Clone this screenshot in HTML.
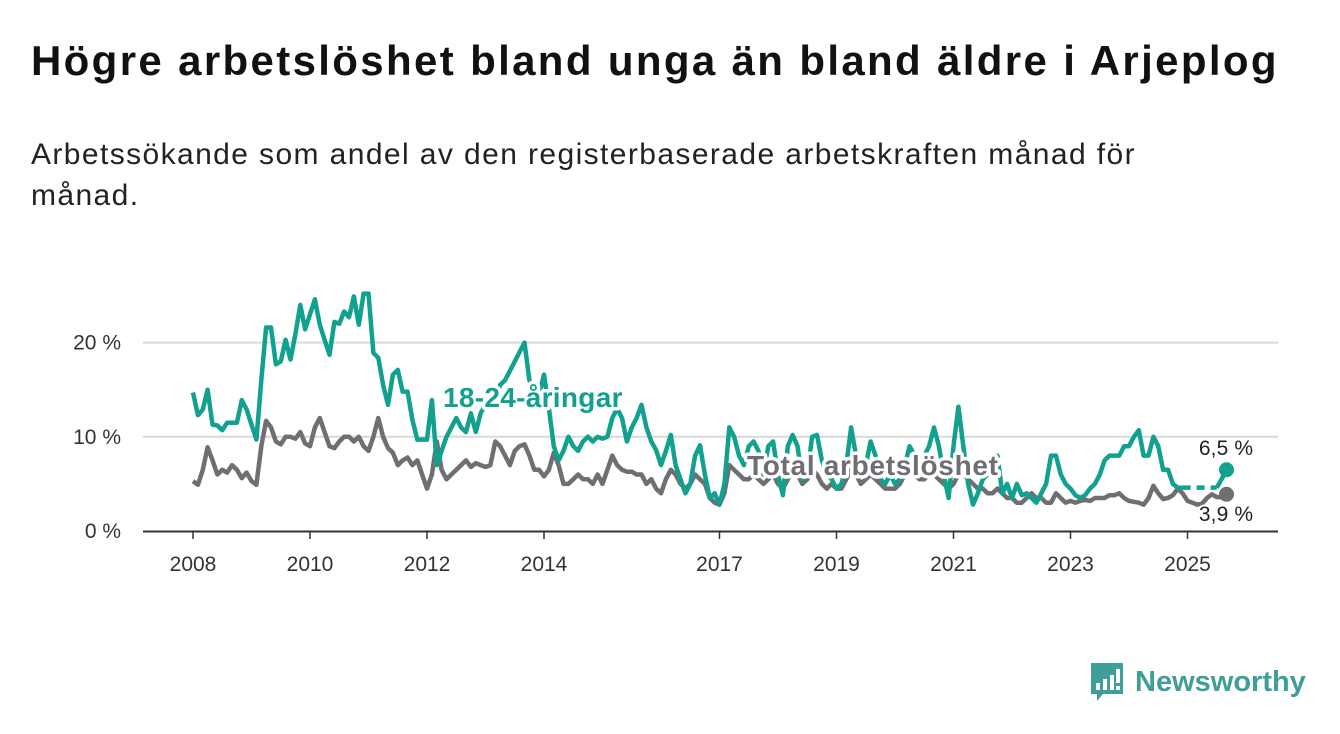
<!DOCTYPE html>
<html><head><meta charset="utf-8">
<style>
body{margin:0;background:#fff;width:1340px;height:734px;overflow:hidden;font-family:"Liberation Sans",sans-serif;}
h1{position:absolute;left:31px;top:38px;margin:0;font-size:42px;line-height:46px;font-weight:bold;color:#111;letter-spacing:2.35px;white-space:nowrap}
p{position:absolute;left:31px;top:134px;margin:0;font-size:30px;line-height:41px;color:#222;width:1200px;letter-spacing:1.4px}
svg{position:absolute;left:0;top:0}
</style></head><body>
<h1>Högre arbetslöshet bland unga än bland äldre i Arjeplog</h1>
<p>Arbetssökande som andel av den registerbaserade arbetskraften månad för månad.</p>
<svg id="chart" width="1340" height="734"></svg>
<script>
const startYear = 2008;
const yTicks = [0, 10, 20];
const xTickYears = [2008, 2010, 2012, 2014, 2017, 2019, 2021, 2023, 2025];
const youth = [
14.7,12.3,12.9,15,11.3,11.2,10.7,11.5,11.5,11.5,13.9,12.9,
11.3,9.7,16,21.6,21.6,17.7,18,20.3,18.2,20.9,24,21.4,
23,24.6,21.9,20.3,18.7,22.2,22,23.3,22.7,24.9,21.9,25.2,
25.2,18.9,18.4,15.5,13.4,16.6,17.1,14.8,14.8,11.8,9.7,9.7,
9.7,13.9,7,8.5,10,11,12,11,10.5,12.5,10.5,12.5,
13.4,13.5,14,15.5,16,17,18,19,20,16,15,14.5,
16.6,13,9,7.5,8.5,10,9,8.5,9.5,10,9.5,10,
9.8,10,12,13,12,9.5,11,12,13.4,11,9.5,8.6,
7,8.5,10.2,7,5.5,4,5,8,9.1,6,3.5,4,
2.8,5,11,10,8,7,9,9.5,8.5,6,9,9.5,
6,3.8,9,10.2,9,5.5,6,10,10.2,7.5,6,5.5,
4.5,5,7,11,8,6.5,7,9.5,8,5.5,5,6,
5,5.5,7,9,8,7,8,9,11,9,6,3.5,
9,13.2,9,5,2.8,4,5.5,6,7.5,8,4,5,
3.5,5,3.8,4,3.5,3,4,5,8,8,6,5,
4.5,3.8,3.5,3.8,4.5,5,6,7.5,8,8,8,9,
9,10,10.7,8,8,10,9,6.5,6.5,5,4.6,4.6,
null,null,null,null,null,null,4.6,5.5,6.5];
const total = [
5.3,4.9,6.5,8.9,7.5,6,6.5,6.2,7,6.5,5.6,6.2,
5.3,4.9,9,11.7,11,9.5,9.2,10,10,9.8,10.5,9.3,
9,11,12,10.5,9,8.8,9.5,10,10,9.5,10,9,
8.5,10,12,10,8.8,8.3,7,7.5,7.8,7,7.5,6,
4.5,6,9.5,6.5,5.5,6,6.5,7,7.5,6.8,7.2,7,
6.8,7,9.5,9,8,7,8.5,9,9.2,8,6.5,6.5,
5.8,6.5,8.3,7,5,5,5.5,6,5.5,5.5,5,6,
5,6.5,8,7,6.5,6.3,6.3,6,6,5,5.5,4.5,
4,5.5,6.5,6,5,4.5,5,6,5.5,5,3.5,3,
2.8,4,7,6.5,6,5.5,5.5,6,5.5,5,5.5,6,
5,4.5,5.5,6.5,6,5,5.5,6.5,6,5,4.5,5,
4.5,4.5,5.5,6.5,6,5,5.5,6,5.5,5,4.5,4.5,
4.5,5,6,6.5,6,5.5,5.5,6,6,5.5,5,4.5,
5,6,6,5.5,5,4.5,4.5,4,4,4.5,4,3.5,
3.5,3,3,3.5,4,3.5,3.5,3,3,4,3.5,3,
3.2,3,3.2,3.3,3.2,3.5,3.5,3.5,3.8,3.8,4,3.5,
3.2,3.1,3,2.8,3.5,4.8,4,3.4,3.5,3.8,4.5,4,
3.2,3,2.8,2.9,3.5,3.9,3.6,3.6,3.9];

const NS='http://www.w3.org/2000/svg';
const svg=document.getElementById('chart');
const x0=193, pxYear=58.5, y0=531, pxPct=9.42;
function xScale(m){return x0+m*pxYear/12;}
function yScale(v){return y0-v*pxPct;}
function mk(tag,attrs){const e=document.createElementNS(NS,tag);for(const k in attrs)e.setAttribute(k,attrs[k]);svg.appendChild(e);return e;}

yTicks.forEach(t=>{
  if(t>0){const g=mk('line',{x1:143,x2:1278,y1:yScale(t),y2:yScale(t),stroke:'#d9d9d9','stroke-width':2});
  
  }
  const tx=mk('text',{x:121,y:yScale(t)+7,'text-anchor':'end','font-size':21,fill:'#333'});
  tx.textContent=t+' %';
  
  
});
const ax=mk('line',{x1:143,x2:1278,y1:y0+0.5,y2:y0+0.5,stroke:'#333','stroke-width':2});


xTickYears.forEach(yr=>{
  const x=xScale((yr-startYear)*12);
  const tk=mk('line',{x1:x,x2:x,y1:y0,y2:y0+8,stroke:'#333','stroke-width':1.5});
  
  
  const tx=mk('text',{x:x,y:571,'text-anchor':'middle','font-size':21,fill:'#333'});
  tx.textContent=yr;
  
  
});

function paths(arr){
  let segs=[],cur=[];
  arr.forEach((v,i)=>{if(v==null){if(cur.length)segs.push(cur);cur=[];}else cur.push([xScale(i),yScale(v)]);});
  if(cur.length)segs.push(cur);
  return segs;
}
function drawSeries(arr,color,name){
  const segs=paths(arr);
  segs.forEach(s=>{
    const p=mk('path',{d:'M'+s.map(q=>q[0].toFixed(1)+','+q[1].toFixed(1)).join('L'),fill:'none',stroke:color,'stroke-width':4.5,'stroke-linejoin':'round'});
    
    
  });
  for(let i=0;i<segs.length-1;i++){
    const a=segs[i][segs[i].length-1], b=segs[i+1][0];
    const d=mk('line',{x1:a[0],y1:a[1],x2:b[0],y2:b[1],stroke:color,'stroke-width':4.5,'stroke-dasharray':'8,6'});
    
    
  }
  const last=segs[segs.length-1][segs[segs.length-1].length-1];
  const c=mk('circle',{cx:last[0],cy:last[1],r:7.5,fill:color});
  
  
  return last;
}
const lt=drawSeries(total,'#6f6e73','total');
const ly=drawSeries(youth,'#12a08f','youth');

function label(txt,x,y,color,anchor,bold,size,ls,name){
  const t=mk('text',{x:x,y:y,'text-anchor':anchor,'font-size':size,'font-weight':bold?'bold':'normal','letter-spacing':ls,fill:color,stroke:'#fff','stroke-width':bold?7:4,'paint-order':'stroke','stroke-linejoin':'round'});
  t.textContent=txt;
  
  
}
label('18-24-åringar',443,407,'#12a08f','start',true,28,0.3,'youth-series-label');
label('Total arbetslöshet',747,475,'#6f6e73','start',true,28,0.7,'total-series-label');
label('6,5 %',1226,455,'#222','middle',false,21,0.1,'youth-end-value');
label(String(total[total.length-1]).replace('.',',')+' %',1226,521,'#222','middle',false,21,0.1,'total-end-value');
</script>
<div style="position:absolute;left:1089px;top:660px;height:44px;display:flex;align-items:center">
<svg width="36" height="42" viewBox="0 0 36 42" style="position:static">
<path d="M2 2H34V33H14L8 40V33H2Z" fill="#3f9e97"/>
<rect x="7" y="22" width="4" height="7" fill="#fff"/><rect x="14" y="18" width="4" height="11" fill="#fff"/><rect x="21" y="14" width="4" height="15" fill="#fff"/><rect x="27" y="8" width="4" height="14" fill="#fff"/><rect x="27" y="25" width="4" height="4" fill="#fff"/>
</svg>
<span style="font-size:29px;color:#3f9e97;margin-left:10px;font-weight:bold">Newsworthy</span>
</div>
</body></html>
